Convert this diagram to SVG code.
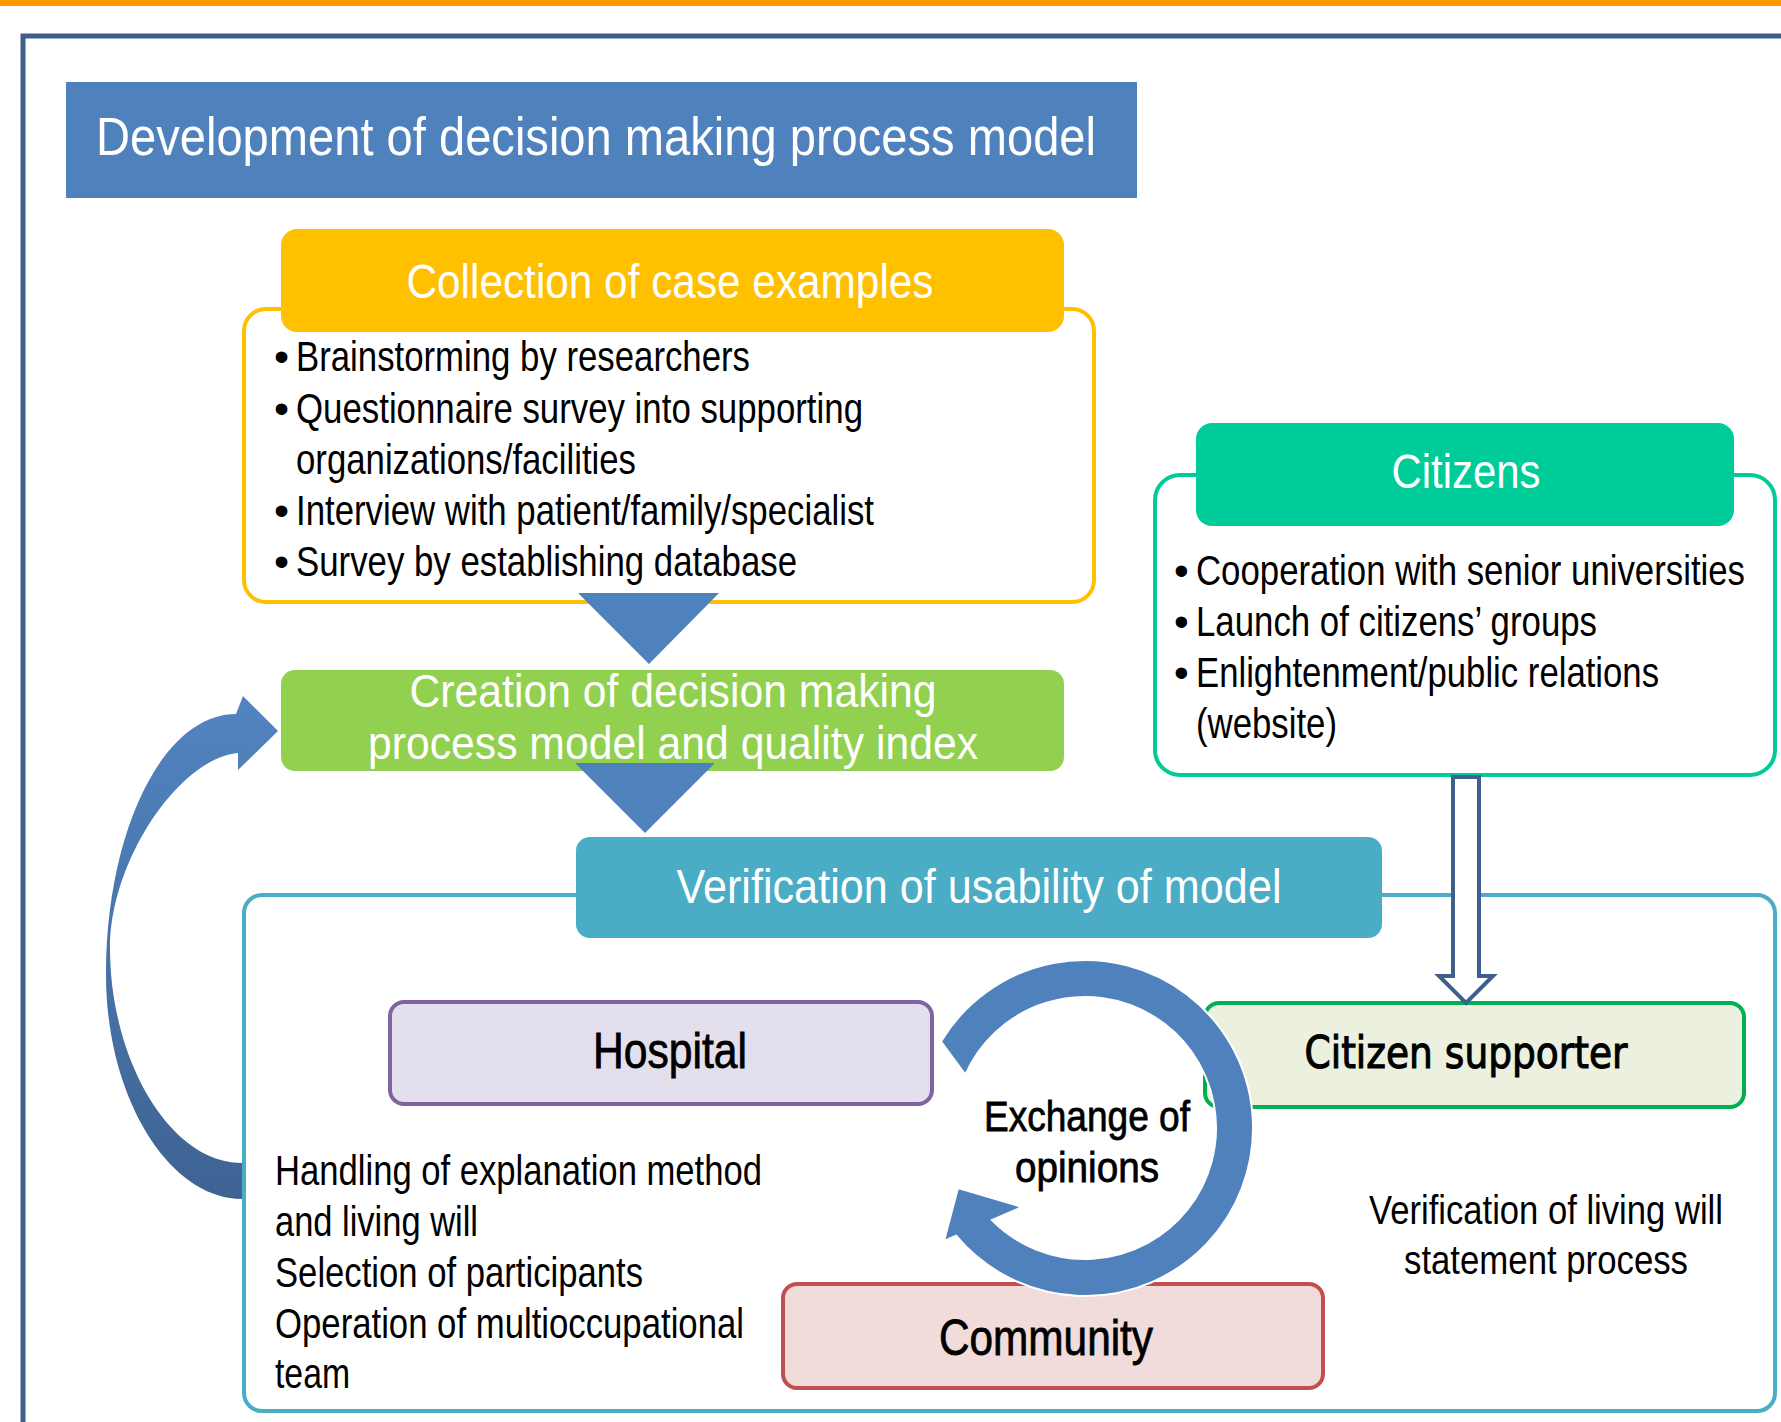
<svg xmlns="http://www.w3.org/2000/svg" width="1781" height="1422" viewBox="0 0 1781 1422">
<style>
.f{font-family:"Liberation Sans Narrow","Liberation Sans",Arial,sans-serif}
.w{fill:#ffffff}
.k{fill:#000000}
.hv{stroke:#000000;stroke-width:0.8}
.tri{fill:#4F81BD}
</style>
<defs>
<linearGradient id="curveGrad" x1="0" y1="0" x2="0" y2="1">
<stop offset="0" stop-color="#5284C0"/>
<stop offset="1" stop-color="#3E6393"/>
</linearGradient>
</defs>
<rect x="0" y="0" width="1781" height="1422" fill="#ffffff"/>
<rect x="0" y="0" width="1781" height="6" fill="#FF9900"/>
<rect x="23" y="36" width="1800" height="1420" fill="none" stroke="#3E5F8E" stroke-width="5"/>

<g id="title">
<rect x="66" y="82" width="1071" height="116" fill="#4F81BD"/>
<text class="f w" x="96" y="155" font-size="54" textLength="1000" lengthAdjust="spacingAndGlyphs">Development of decision making process model</text>
</g>

<g id="collection">
<rect x="244" y="309" width="850" height="293" rx="22" fill="#ffffff" stroke="#FFC000" stroke-width="4"/>
<rect x="281" y="229" width="783" height="103" rx="16" fill="#FFC000"/>
<text class="f w" x="670" y="298" font-size="48" text-anchor="middle" textLength="527" lengthAdjust="spacingAndGlyphs">Collection of case examples</text>
<g class="f k" font-size="43">
<text x="274" y="371">•</text>
<text x="296" y="371" textLength="454" lengthAdjust="spacingAndGlyphs">Brainstorming by researchers</text>
<text x="274" y="423">•</text>
<text x="296" y="423" textLength="567" lengthAdjust="spacingAndGlyphs">Questionnaire survey into supporting</text>
<text x="296" y="474" textLength="340" lengthAdjust="spacingAndGlyphs">organizations/facilities</text>
<text x="274" y="525">•</text>
<text x="296" y="525" textLength="578" lengthAdjust="spacingAndGlyphs">Interview with patient/family/specialist</text>
<text x="274" y="576">•</text>
<text x="296" y="576" textLength="501" lengthAdjust="spacingAndGlyphs">Survey by establishing database</text>
</g>
</g>

<g id="creation">
<rect x="281" y="670" width="783" height="101" rx="14" fill="#92D050"/>
<text class="f w" x="673" y="707" font-size="46" text-anchor="middle" textLength="527" lengthAdjust="spacingAndGlyphs">Creation of decision making</text>
<text class="f w" x="673" y="759" font-size="46" text-anchor="middle" textLength="610" lengthAdjust="spacingAndGlyphs">process model and quality index</text>
</g>

<g id="citizens">
<rect x="1155" y="475" width="620" height="300" rx="25" fill="#ffffff" stroke="#00CC99" stroke-width="4"/>
<rect x="1196" y="423" width="538" height="103" rx="16" fill="#00CC99"/>
<text class="f w" x="1466" y="488" font-size="48" text-anchor="middle" textLength="149" lengthAdjust="spacingAndGlyphs">Citizens</text>
<g class="f k" font-size="42">
<text x="1174" y="585">•</text>
<text x="1196" y="585" textLength="549" lengthAdjust="spacingAndGlyphs">Cooperation with senior universities</text>
<text x="1174" y="636">•</text>
<text x="1196" y="636" textLength="401" lengthAdjust="spacingAndGlyphs">Launch of citizens’ groups</text>
<text x="1174" y="687">•</text>
<text x="1196" y="687" textLength="463" lengthAdjust="spacingAndGlyphs">Enlightenment/public relations</text>
<text x="1196" y="738" textLength="141" lengthAdjust="spacingAndGlyphs">(website)</text>
</g>
</g>

<g id="verification">
<rect x="244" y="895" width="1531" height="516" rx="18" fill="#ffffff" stroke="#4BACC6" stroke-width="4"/>
<rect x="576" y="837" width="806" height="101" rx="14" fill="#4BACC6"/>
<text class="f w" x="979" y="903" font-size="48" text-anchor="middle" textLength="605" lengthAdjust="spacingAndGlyphs">Verification of usability of model</text>
</g>

<g id="hospital">
<rect x="390" y="1002" width="542" height="102" rx="14" fill="#E4DFEC" stroke="#8064A2" stroke-width="4"/>
<text class="f k hv" x="670" y="1068" font-size="50" text-anchor="middle" textLength="154" lengthAdjust="spacingAndGlyphs">Hospital</text>
</g>

<g id="hospital-notes" class="f k" font-size="43">
<text x="275" y="1185" textLength="487" lengthAdjust="spacingAndGlyphs">Handling of explanation method</text>
<text x="275" y="1236" textLength="203" lengthAdjust="spacingAndGlyphs">and living will</text>
<text x="275" y="1287" textLength="368" lengthAdjust="spacingAndGlyphs">Selection of participants</text>
<text x="275" y="1338" textLength="469" lengthAdjust="spacingAndGlyphs">Operation of multioccupational</text>
<text x="275" y="1388" textLength="75" lengthAdjust="spacingAndGlyphs">team</text>
</g>

<g id="citizen-supporter">
<rect x="1205" y="1003" width="539" height="104" rx="14" fill="#EBF1DE" stroke="#00B050" stroke-width="4"/>
<text x="1466" y="1068" font-family="'DejaVu Sans','Liberation Sans',sans-serif" font-size="44" fill="#000" stroke="#000" stroke-width="1.1" text-anchor="middle" textLength="323" lengthAdjust="spacingAndGlyphs">Citizen supporter</text>
</g>

<g id="supporter-notes" class="f k" font-size="41">
<text x="1546" y="1224" text-anchor="middle" textLength="354" lengthAdjust="spacingAndGlyphs">Verification of living will</text>
<text x="1546" y="1274" text-anchor="middle" textLength="284" lengthAdjust="spacingAndGlyphs">statement process</text>
</g>

<g id="community">
<rect x="783" y="1284" width="540" height="104" rx="14" fill="#F2DCDB" stroke="#C0504D" stroke-width="4"/>
<text class="f k hv" x="1046" y="1355" font-size="50" text-anchor="middle" textLength="214" lengthAdjust="spacingAndGlyphs">Community</text>
</g>

<g id="exchange">
<path d="M 941 1041.5 A 168 168 0 1 1 956.1 1235.7 L 944 1241 L 958 1188 L 1022 1207 L 991.9 1220.1 A 131 131 0 1 0 965.3 1074.7 Z" fill="#4F81BD" stroke="#ffffff" stroke-width="2" stroke-linejoin="miter"/>
<text class="f k hv" x="1087" y="1131" font-size="43" text-anchor="middle" textLength="206" lengthAdjust="spacingAndGlyphs">Exchange of</text>
<text class="f k hv" x="1087" y="1182" font-size="43" text-anchor="middle" textLength="144" lengthAdjust="spacingAndGlyphs">opinions</text>
</g>

<g id="connectors">
<path class="tri" d="M 578 593 L 719 593 L 649 664 Z"/>
<path class="tri" d="M 575 763 L 715 763 L 645 833 Z"/>
<path d="M 1453 777 L 1479 777 L 1479 976 L 1493 976 L 1466 1003 L 1439 976 L 1453 976 Z" fill="#ffffff" stroke="#3F5F8F" stroke-width="4" stroke-linejoin="miter"/>
<path d="M 242 1199 C 169 1199 106 1097 106 975 C 106 831 163 714 236 714 L 243 696 L 278 731 L 238 770 L 238 753 C 180 758 110 860 110 948 C 110 1060 170 1163 242 1163 Z" fill="url(#curveGrad)"/>
</g>
</svg>
